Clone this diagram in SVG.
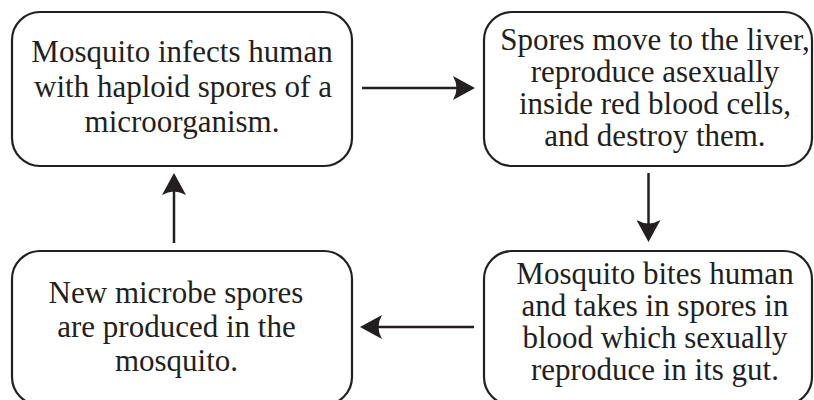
<svg xmlns="http://www.w3.org/2000/svg" width="814" height="400" viewBox="0 0 814 400">
<style>
.box{fill:#fff;stroke:#231f20;stroke-width:2.2}
.t{font-family:"Liberation Serif","Times New Roman",serif;font-size:31px;fill:#231f20;text-anchor:middle}
.c{stroke:#231f20;stroke-width:2.5;fill:none}
</style>
<defs>
<marker id="ah" viewBox="0 0 22 24" refX="14" refY="12" markerWidth="22" markerHeight="24" markerUnits="userSpaceOnUse" orient="auto">
<path d="M0,0 L22,12 L0,24 Q7,12 0,0 Z" fill="#231f20"/>
</marker>
</defs>
<rect width="814" height="400" fill="#fff"/>
<g id="node1">
<rect class="box" x="12" y="12" width="340" height="154" rx="28"/>
<text class="t" x="182" y="62">Mosquito infects human</text>
<text class="t" x="183" y="97">with haploid spores of a</text>
<text class="t" x="182" y="132">microorganism.</text>
</g>
<g id="node2">
<rect class="box" x="484" y="12" width="328" height="154" rx="28"/>
<text class="t" x="655" y="50">Spores move to the liver,</text>
<text class="t" x="655" y="82">reproduce asexually</text>
<text class="t" x="655" y="114">inside red blood cells,</text>
<text class="t" x="655" y="146">and destroy them.</text>
</g>
<g id="node3">
<rect class="box" x="484" y="251" width="328" height="154" rx="28"/>
<text class="t" x="655" y="284">Mosquito bites human</text>
<text class="t" x="655" y="316">and takes in spores in</text>
<text class="t" x="655" y="348">blood which sexually</text>
<text class="t" x="655" y="380">reproduce in its gut.</text>
</g>
<g id="node4">
<rect class="box" x="12" y="251" width="340" height="154" rx="28"/>
<text class="t" x="176" y="303">New microbe spores</text>
<text class="t" x="176.5" y="337">are produced in the</text>
<text class="t" x="176.5" y="371">mosquito.</text>
</g>
<g id="connectors">
<line class="c" x1="362" y1="88" x2="467" y2="88" marker-end="url(#ah)"/>
<line class="c" x1="648.5" y1="173" x2="648.5" y2="234" marker-end="url(#ah)"/>
<line class="c" x1="474" y1="327" x2="368" y2="327" marker-end="url(#ah)"/>
<line class="c" x1="174" y1="243" x2="174" y2="181" marker-end="url(#ah)"/>
</g>
</svg>
